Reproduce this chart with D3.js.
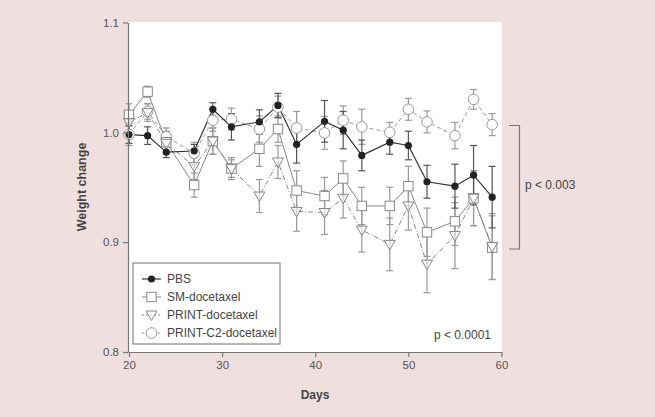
<!DOCTYPE html>
<html><head><meta charset="utf-8">
<script src="https://cdn.jsdelivr.net/npm/d3@7"></script>
<style>html,body{margin:0;padding:0;background:#efdfdf;}svg{display:block;}</style>
</head><body>
<script>
const days = [20, 22, 24, 27, 29, 31, 34, 36, 38, 41, 43, 45, 48, 50, 52, 55, 57, 59];
const pbs = [0.998, 0.997, 0.982, 0.983, 1.021, 1.005, 1.0095, 1.0245, 0.989, 1.010, 1.002, 0.979, 0.991, 0.988, 0.955, 0.951, 0.961, 0.941];
const pbsErr = [0.008, 0.008, 0.005, 0.006, 0.006, 0.012, 0.011, 0.011, 0.017, 0.019, 0.017, 0.014, 0.011, 0.013, 0.015, 0.020, 0.027, 0.028];
const sm = [1.016, 1.037, 0.991, 0.952, 0.992, 0.967, 0.985, 1.003, 0.947, 0.942, 0.958, 0.933, 0.933, 0.951, 0.909, 0.919, 0.940, 0.895];
const smErr = [0.010, 0.005, 0.010, 0.011, 0.012, 0.008, 0.016, 0.012, 0.018, 0.017, 0.016, 0.017, 0.017, 0.018, 0.022, 0.022, 0.025, 0.029];
const printD = [1.009, 1.018, 0.990, 0.969, 0.992, 0.967, 0.942, 0.973, 0.928, 0.927, 0.940, 0.911, 0.898, 0.933, 0.880, 0.906, 0.940, 0.896];
const printErr = [0.008, 0.008, 0.010, 0.012, 0.012, 0.010, 0.015, 0.015, 0.018, 0.020, 0.018, 0.020, 0.024, 0.022, 0.026, 0.030, 0.025, 0.030];
const c2 = [0.998, 1.019, 0.996, 0.981, 1.011, 1.012, 1.003, 1.023, 1.004, 0.9995, 1.011, 1.005, 1.000, 1.021, 1.0095, 0.997, 1.030, 1.007];
const c2Err = [0.010, 0.007, 0.008, 0.010, 0.010, 0.010, 0.012, 0.010, 0.015, 0.015, 0.013, 0.016, 0.009, 0.010, 0.010, 0.012, 0.009, 0.010];
const xTicks = [20, 30, 40, 50, 60];
const yTicks = [0.8, 0.9, 1.0, 1.1];
const seriesNames = ["PBS", "SM-docetaxel", "PRINT-docetaxel", "PRINT-C2-docetaxel"];

const W = 655, H = 417;
const font = "'Liberation Sans', Arial, sans-serif";
const svg = d3.select("body").append("svg").attr("width", W).attr("height", H);
svg.append("rect").attr("width", W).attr("height", H).attr("fill", "#efdfdf");

const x = d3.scaleLinear().domain([20, 60]).range([129, 501.5]);
const y = d3.scaleLinear().domain([0.8, 1.1]).range([352, 22.5]);

svg.append("rect").attr("x", 128).attr("y", 22).attr("width", 374).attr("height", 330).attr("fill", "#fff");

const series = [
  {name: seriesNames[3], vals: c2, err: c2Err, color: "#999", dash: "4,3", sym: "circle", lw: 1},
  {name: seriesNames[1], vals: sm, err: smErr, color: "#888", dash: null, sym: "square", lw: 1},
  {name: seriesNames[2], vals: printD, err: printErr, color: "#888", dash: "5,2,1,2", sym: "tri", lw: 1},
  {name: seriesNames[0], vals: pbs, err: pbsErr, color: "#333", dash: null, sym: "dot", lw: 1.2}
];

const g = svg.append("g");
// error bars
series.forEach(s => {
  const eb = g.append("g").attr("stroke", s.sym === "dot" ? "#555" : "#999").attr("stroke-width", 1.2);
  days.forEach((d, i) => {
    const cx = x(d), y0 = y(s.vals[i] - s.err[i]), y1 = y(s.vals[i] + s.err[i]);
    eb.append("line").attr("x1", cx).attr("x2", cx).attr("y1", y0).attr("y2", y1);
    eb.append("line").attr("x1", cx - 3.5).attr("x2", cx + 3.5).attr("y1", y0).attr("y2", y0);
    eb.append("line").attr("x1", cx - 3.5).attr("x2", cx + 3.5).attr("y1", y1).attr("y2", y1);
  });
});
// lines
const line = d3.line().x((d, i) => x(days[i])).y(d => y(d));
series.forEach(s => {
  g.append("path").attr("d", line(s.vals)).attr("fill", "none")
    .attr("stroke", s.color).attr("stroke-width", s.lw)
    .attr("stroke-dasharray", s.dash);
});
function drawSym(sel, sym, cx, cy, color) {
  if (sym === "circle") sel.append("circle").attr("cx", cx).attr("cy", cy).attr("r", 5.3).attr("fill", "#fff").attr("stroke", "#999").attr("stroke-width", 1);
  else if (sym === "square") sel.append("rect").attr("x", cx - 4.7).attr("y", cy - 4.7).attr("width", 9.4).attr("height", 9.4).attr("fill", "#fff").attr("stroke", "#888").attr("stroke-width", 1);
  else if (sym === "tri") sel.append("path").attr("d", `M${cx - 5.5},${cy - 4}L${cx + 5.5},${cy - 4}L${cx},${cy + 5.5}Z`).attr("fill", "#fff").attr("fill-opacity", 0.6).attr("stroke", "#888").attr("stroke-width", 1);
  else sel.append("circle").attr("cx", cx).attr("cy", cy).attr("r", 3.6).attr("fill", "#222");
}
series.forEach(s => {
  days.forEach((d, i) => drawSym(g, s.sym, x(d), y(s.vals[i]), s.color));
});

// axes
const axisColor = "#777";
const xAxis = svg.append("g").attr("transform", "translate(0,352)")
  .call(d3.axisBottom(x).tickValues(xTicks).tickSize(5).tickPadding(4).tickSizeOuter(0));
const yAxis = svg.append("g").attr("transform", "translate(128,0)")
  .call(d3.axisLeft(y).tickValues(yTicks).tickFormat(d3.format(".1f")).tickSize(5).tickPadding(4).tickSizeOuter(0));
[xAxis, yAxis].forEach(a => {
  a.selectAll("path,line").attr("stroke", axisColor).attr("stroke-width", 1.2);
  a.selectAll("text").attr("fill", "#555").attr("font-family", font).attr("font-size", 11.5);
});
svg.append("text").attr("x", 315).attr("y", 399).attr("text-anchor", "middle")
  .attr("font-family", font).attr("font-size", 12).attr("font-weight", "bold").attr("fill", "#444").text("Days");
svg.append("text").attr("transform", "translate(86,187) rotate(-90)").attr("text-anchor", "middle")
  .attr("font-family", font).attr("font-size", 12.5).attr("font-weight", "bold").attr("fill", "#444").text("Weight change");

// legend
const lg = svg.append("g");
lg.append("rect").attr("x", 133).attr("y", 263).attr("width", 147).attr("height", 81)
  .attr("fill", "#fff").attr("stroke", "#888").attr("stroke-width", 1.2);
const legOrder = [3, 1, 2, 0];
legOrder.forEach((si, k) => {
  const s = series[si];
  const cy = 279 + k * 18;
  lg.append("line").attr("x1", 142).attr("x2", 161).attr("y1", cy).attr("y2", cy)
    .attr("stroke", s.color).attr("stroke-width", s.lw).attr("stroke-dasharray", s.dash ? "2,2" : null);
  drawSym(lg, s.sym, 151.5, cy, s.color);
  lg.append("text").attr("x", 167).attr("y", cy + 4.2).attr("font-family", font).attr("font-size", 12)
    .attr("fill", "#444").text(s.name);
});

svg.append("text").attr("x", 491).attr("y", 338.5).attr("text-anchor", "end")
  .attr("font-family", font).attr("font-size", 12).attr("fill", "#444").text("p < 0.0001");

// bracket
svg.append("path").attr("d", "M509,125.5H519.5V249H509").attr("fill", "none").attr("stroke", "#777").attr("stroke-width", 1.2);
svg.append("text").attr("x", 525).attr("y", 189).attr("font-family", font).attr("font-size", 12)
  .attr("fill", "#444").text("p < 0.003");
</script>
</body></html>
